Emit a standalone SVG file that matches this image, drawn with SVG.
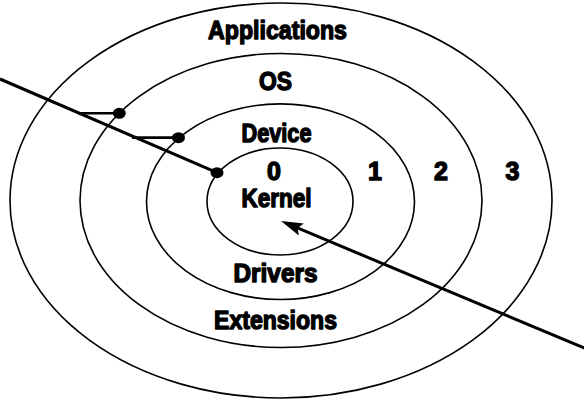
<svg xmlns="http://www.w3.org/2000/svg" width="584" height="400" viewBox="0 0 584 400">
  <style>
    .ring { fill: none; stroke: #000; stroke-width: 1.6; }
    .lbl { font-family: "Liberation Sans", Arial, sans-serif; font-weight: bold; font-size: 26px; fill: #000; stroke: #000; stroke-width: 1.4; stroke-linejoin: round; text-anchor: middle; }
    .num { font-size: 25px; }
    .wire { stroke: #000; stroke-width: 3; fill: none; }
    .tick { stroke: #000; stroke-width: 2.6; fill: none; }
    .dot { fill: #000; }
  </style>
  <defs>
    <marker id="arrow" markerUnits="userSpaceOnUse" viewBox="-12 -8 26 16" markerWidth="26" markerHeight="16" refX="0" refY="0" orient="auto" overflow="visible">
      <path d="M12,0 L-10,-6.5 L-6,0 L-10,6.5 Z" fill="#000"/>
    </marker>
  </defs>

  <rect width="584" height="400" fill="#fff"/>

  <!-- protection rings, outermost first -->
  <g id="ring3">
    <ellipse class="ring" cx="281" cy="200.5" rx="271" ry="197.5"/>
    <text class="lbl" x="277.5" y="39" textLength="139" lengthAdjust="spacingAndGlyphs">Applications</text>
    <text class="lbl num" x="512.5" y="180">3</text>
  </g>
  <g id="ring2">
    <ellipse class="ring" cx="281" cy="200.5" rx="201" ry="147"/>
    <text class="lbl" x="275.5" y="90" textLength="33" lengthAdjust="spacingAndGlyphs">OS</text>
    <text class="lbl" x="275.5" y="329" textLength="123" lengthAdjust="spacingAndGlyphs">Extensions</text>
    <text class="lbl num" x="441" y="180">2</text>
  </g>
  <g id="ring1">
    <ellipse class="ring" cx="280.5" cy="201.7" rx="134" ry="97.8"/>
    <text class="lbl" x="276.5" y="142" textLength="70" lengthAdjust="spacingAndGlyphs">Device</text>
    <text class="lbl" x="275.5" y="282" textLength="84" lengthAdjust="spacingAndGlyphs">Drivers</text>
    <text class="lbl num" x="375" y="180">1</text>
  </g>
  <g id="ring0">
    <ellipse class="ring" cx="280" cy="201.5" rx="73" ry="53.5"/>
    <text class="lbl num" x="274" y="180">0</text>
    <text class="lbl" x="276.5" y="207" textLength="70" lengthAdjust="spacingAndGlyphs">Kernel</text>
  </g>

  <!-- call gates and the trap into the kernel -->
  <g id="connectors">
    <line class="wire" x1="0" y1="79" x2="217" y2="172.7"/>
    <line class="tick" x1="78" y1="113.3" x2="119" y2="113.3"/>
    <line class="tick" x1="132" y1="137.6" x2="178.5" y2="137.6"/>
    <ellipse class="dot" cx="119.3" cy="113.3" rx="6.5" ry="5.5"/>
    <ellipse class="dot" cx="178.5" cy="137.7" rx="6.5" ry="5.5"/>
    <ellipse class="dot" cx="217" cy="172.7" rx="6.5" ry="5.5"/>
    <line class="wire" x1="586" y1="348.8" x2="292.1" y2="225.7" marker-end="url(#arrow)"/>
  </g>
</svg>
